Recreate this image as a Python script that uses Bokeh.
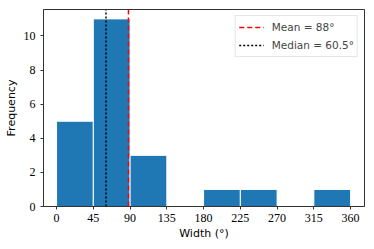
from bokeh.plotting import figure
from bokeh.models import Legend, LegendItem, Range1d, FixedTicker
from bokeh.embed import file_html
from bokeh.resources import INLINE

bin_edges = [0, 45, 90, 135, 180, 225, 270, 315, 360]
counts = [5, 11, 3, 0, 1, 1, 0, 1]
mean_val = 88
median_val = 60.5
x_ticks = [0, 45, 90, 135, 180, 225, 270, 315, 360]
y_ticks = [0, 2, 4, 6, 8, 10]

y_top = max(counts) * 1.05

p = figure(width=374, height=249, output_backend="svg", toolbar_location=None,
           x_range=Range1d(-16, 377), y_range=Range1d(0, y_top),
           min_border_left=43, min_border_right=10, min_border_top=9, min_border_bottom=43)

lefts = [e for e, c in zip(bin_edges[:-1], counts) if c > 0]
rights = [e for e, c in zip(bin_edges[1:], counts) if c > 0]
tops = [c for c in counts if c > 0]
p.quad(left=lefts, right=rights, bottom=0, top=tops,
       fill_color="#1f77b4", line_color="white", line_width=1)

r_mean = p.line(x=[mean_val, mean_val], y=[0, y_top], line_color="red",
                line_dash="5 3", line_width=1.5)
r_med = p.line(x=[median_val, median_val], y=[0, y_top], line_color="black",
               line_dash="2 2", line_width=1.5)
legend = Legend(items=[LegendItem(label="Mean = 88°", renderers=[r_mean]),
                       LegendItem(label="Median = 60.5°", renderers=[r_med])],
                location="top_right")
legend.label_text_font = "DejaVu Sans"
legend.label_text_font_size = "10.5px"
legend.border_line_color = "#cccccc"
legend.border_line_width = 1
legend.background_fill_alpha = 0.9
legend.margin = 6
legend.padding = 3
legend.spacing = 2
legend.glyph_width = 25
legend.glyph_height = 16
legend.label_height = 16
legend.label_standoff = 8
p.add_layout(legend)

p.grid.visible = False
p.outline_line_color = "#333333"
p.outline_line_width = 1

for ax in (p.xaxis[0], p.yaxis[0]):
    ax.axis_line_color = "#333333"
    ax.major_tick_line_color = "#333333"
    ax.major_tick_out = 3
    ax.major_tick_in = 0
    ax.minor_tick_line_color = None
    ax.major_label_text_font = "Liberation Serif"
    ax.major_label_text_font_size = "12px"
    ax.major_label_text_color = "black"
    ax.axis_label_text_font = "DejaVu Sans"
    ax.axis_label_text_font_size = "11px"
    ax.axis_label_text_font_style = "normal"
    ax.axis_label_text_color = "black"

p.xaxis.ticker = FixedTicker(ticks=x_ticks)
p.yaxis.ticker = FixedTicker(ticks=y_ticks)
p.xaxis.axis_label = "Width (°)"
p.yaxis.axis_label = "Frequency"
p.xaxis.major_label_standoff = 4
p.yaxis.major_label_standoff = 5
p.xaxis.axis_label_standoff = 2
p.yaxis.axis_label_standoff = 3

open("out.html", "w").write(file_html(p, INLINE))
